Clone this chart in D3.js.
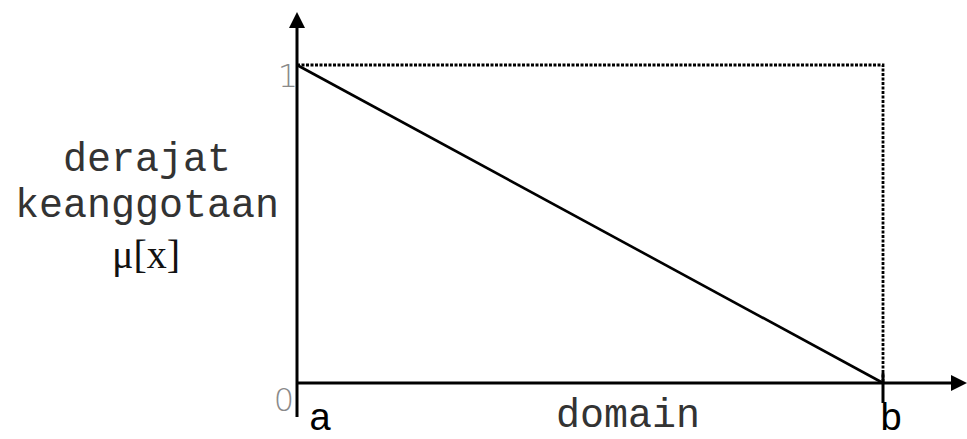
<!DOCTYPE html>
<html>
<head>
<meta charset="utf-8">
<script src="https://cdn.jsdelivr.net/npm/d3@7"></script>
<style>
  body { margin: 0; background: #fff; }
</style>
</head>
<body>
<div id="vis"></div>
<script>
//data for the linear-down membership function
const domainPoints = ["a", "b"]
const membership = [1, 0]
const yTicks = [0, 1]
const yLabelLines = ["derajat", "keanggotaan"]

const width = 967
const height = 439

const svg = d3.select("#vis")
    .append("svg")
    .attr("width", width)
    .attr("height", height)

//scales: a..b along the x-axis, 0..1 membership on the y-axis
const x = d3.scalePoint()
    .domain(domainPoints)
    .range([297, 883])

const y = d3.scaleLinear()
    .domain([0, 1])
    .range([383, 65])

//arrow heads
const defs = svg.append("defs")
defs.append("marker")
    .attr("id", "arrow")
    .attr("viewBox", "0 0 10 10")
    .attr("refX", 0)
    .attr("refY", 5)
    .attr("markerWidth", 16)
    .attr("markerHeight", 18)
    .attr("markerUnits", "userSpaceOnUse")
    .attr("orient", "auto")
    .append("path")
    .attr("d", "M0,0 L10,5 L0,10 Z")
    .attr("fill", "#000")

//dotted box on top and right
svg.append("path")
    .attr("d", `M${x("a")},${y(1)} H${x("b")} V${y(0)}`)
    .attr("fill", "none")
    .attr("stroke", "#000")
    .attr("stroke-width", 2.8)
    .attr("stroke-dasharray", "3,1.5")

//y axis
svg.append("line")
    .attr("x1", x("a"))
    .attr("x2", x("a"))
    .attr("y1", y(0) + 34)
    .attr("y2", 28)
    .attr("stroke", "#000")
    .attr("stroke-width", 3)
    .attr("marker-end", "url(#arrow)")

//x axis
svg.append("line")
    .attr("x1", x("a"))
    .attr("x2", 951)
    .attr("y1", y(0))
    .attr("y2", y(0))
    .attr("stroke", "#000")
    .attr("stroke-width", 3)
    .attr("marker-end", "url(#arrow)")

//tick at b
svg.append("line")
    .attr("x1", x("b"))
    .attr("x2", x("b"))
    .attr("y1", y(0) - 10)
    .attr("y2", y(0) + 20)
    .attr("stroke", "#000")
    .attr("stroke-width", 3)

//membership line
const line = d3.line()
    .x((d, i) => x(domainPoints[i]))
    .y(d => y(d))

svg.append("path")
    .datum(membership)
    .attr("d", line)
    .attr("fill", "none")
    .attr("stroke", "#000")
    .attr("stroke-width", 2.6)

//y tick labels
svg.selectAll(".ytick")
    .data(yTicks)
    .enter()
    .append("text")
    .attr("class", "ytick")
    .attr("x", d => d === 1 ? 288 : 284)
    .attr("y", d => d === 1 ? y(d) + 22 : y(d) + 28)
    .attr("text-anchor", "middle")
    .attr("font-family", "DejaVu Sans")
    .attr("font-weight", 200)
    .attr("font-size", 32)
    .attr("fill", "#8a8a8a")
    .text(d => d)

//x labels a and b
svg.selectAll(".xlab")
    .data(domainPoints)
    .enter()
    .append("text")
    .attr("class", "xlab")
    .attr("x", d => x(d) + (d === "a" ? 23 : 8))
    .attr("y", 430)
    .attr("text-anchor", "middle")
    .attr("font-family", "Liberation Sans")
    .attr("font-size", 38)
    .attr("fill", "#000")
    .text(d => d)

//axis title x
svg.append("text")
    .attr("x", 628)
    .attr("y", 427)
    .attr("text-anchor", "middle")
    .attr("font-family", "Liberation Mono")
    .attr("font-size", 40)
    .attr("fill", "#333")
    .text("domain")

//axis title y
svg.selectAll(".ylab")
    .data(yLabelLines)
    .enter()
    .append("text")
    .attr("class", "ylab")
    .attr("x", 147)
    .attr("y", (d, i) => 171 + i * 46)
    .attr("text-anchor", "middle")
    .attr("font-family", "Liberation Mono")
    .attr("font-size", 40)
    .attr("fill", "#333")
    .text(d => d)

svg.append("text")
    .attr("x", 146)
    .attr("y", 268)
    .attr("text-anchor", "middle")
    .attr("font-family", "Liberation Serif")
    .attr("font-size", 40)
    .attr("fill", "#111")
    .text("μ[x]")
</script>
</body>
</html>
